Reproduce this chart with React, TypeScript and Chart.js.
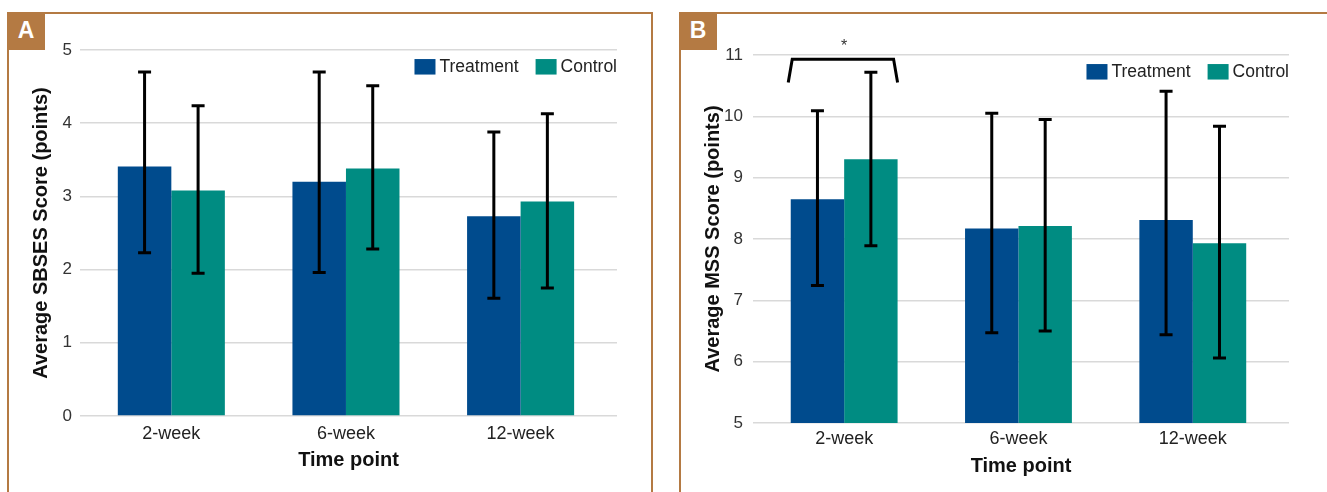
import React, { useEffect, useRef } from "react";
import { Chart, registerables } from "chart.js";

Chart.register(...registerables);

// ---------- data ----------
const categories = ["2-week", "6-week", "12-week"];
const seriesNames = ["Treatment", "Control"];
const seriesColors = ["#004b8d", "#008c82"];

// Panel A: SBSES
const sbsesTreatment = [3.41, 3.2, 2.73];
const sbsesControl = [3.08, 3.38, 2.93];
const sbsesTreatmentLow = [2.23, 1.96, 1.61];
const sbsesTreatmentHigh = [4.7, 4.7, 3.88];
const sbsesControlLow = [1.95, 2.28, 1.75];
const sbsesControlHigh = [4.24, 4.51, 4.13];
const sbsesRange = [0, 5];

// Panel B: MSS
const mssTreatment = [8.65, 8.17, 8.31];
const mssControl = [9.3, 8.21, 7.93];
const mssTreatmentLow = [7.24, 6.47, 6.44];
const mssTreatmentHigh = [10.09, 10.05, 10.41];
const mssControlLow = [7.89, 6.5, 6.06];
const mssControlHigh = [10.72, 9.95, 9.84];
const mssRange = [5, 11];

// significance bracket (panel B): category index, bracket foot, bracket top, star level
const sigCategory = 0;
const sigFoot = 10.55;
const sigTop = 10.93;
const sigStar = 11.19;
const sigLabel = "*";

const FONT = "'Liberation Sans', Arial, sans-serif";
const BROWN = "#b47a43";

Chart.defaults.font.family = FONT;

const errorBarPlugin = {
  id: "errorBars",
  afterDatasetsDraw(chart: any) {
    const { ctx } = chart;
    const y = chart.scales.y;
    ctx.save();
    ctx.strokeStyle = "#000";
    ctx.lineWidth = 3;
    ctx.lineCap = "butt";
    chart.data.datasets.forEach((ds: any, i: number) => {
      const meta = chart.getDatasetMeta(i);
      meta.data.forEach((el: any, j: number) => {
        const yl = y.getPixelForValue(ds.errLow[j]);
        const yh = y.getPixelForValue(ds.errHigh[j]);
        const x = el.x;
        ctx.beginPath();
        ctx.moveTo(x, yl);
        ctx.lineTo(x, yh);
        ctx.moveTo(x - 6.5, yh);
        ctx.lineTo(x + 6.5, yh);
        ctx.moveTo(x - 6.5, yl);
        ctx.lineTo(x + 6.5, yl);
        ctx.stroke();
      });
    });
    ctx.restore();
  },
};

const legendPlugin = {
  id: "insideLegend",
  afterDraw(chart: any) {
    const { ctx, chartArea } = chart;
    ctx.save();
    ctx.font = `17.5px ${FONT}`;
    const boxW = 21;
    const boxH = 15.5;
    const gapBoxText = 4;
    const gapItems = 17;
    const items = chart.data.datasets.map((ds: any) => ({
      label: ds.label,
      color: ds.backgroundColor,
      w: ctx.measureText(ds.label).width,
    }));
    const total =
      items.reduce((s: number, it: any) => s + boxW + gapBoxText + it.w, 0) +
      gapItems * (items.length - 1);
    let x = chartArea.right - total;
    const cy = chartArea.top + 16.8;
    for (const it of items) {
      ctx.fillStyle = it.color;
      ctx.fillRect(x, cy - boxH / 2, boxW, boxH);
      x += boxW + gapBoxText;
      ctx.fillStyle = "#222";
      ctx.textBaseline = "middle";
      ctx.textAlign = "left";
      ctx.fillText(it.label, x, cy + 0.5);
      x += it.w + gapItems;
    }
    ctx.restore();
  },
};

function makeBracketPlugin() {
  return {
    id: "sigBracket",
    afterDraw(chart: any) {
      const { ctx } = chart;
      const y = chart.scales.y;
      const a = chart.getDatasetMeta(0).data[sigCategory];
      const b = chart.getDatasetMeta(1).data[sigCategory];
      const left = a.x - a.width / 2;
      const right = b.x + b.width / 2;
      const yf = y.getPixelForValue(sigFoot);
      const yt = y.getPixelForValue(sigTop);
      ctx.save();
      ctx.strokeStyle = "#000";
      ctx.lineWidth = 3;
      ctx.lineJoin = "miter";
      ctx.beginPath();
      ctx.moveTo(left - 2.5, yf);
      ctx.lineTo(left + 1.5, yt);
      ctx.lineTo(right - 4, yt);
      ctx.lineTo(right, yf);
      ctx.stroke();
      ctx.fillStyle = "#333";
      ctx.font = `16px ${FONT}`;
      ctx.textAlign = "center";
      ctx.textBaseline = "middle";
      ctx.fillText(sigLabel, (left + right) / 2, y.getPixelForValue(sigStar) + 3);
      ctx.restore();
    },
  };
}

type PanelProps = {
  left: number;
  width: number;
  height: number;
  yTitle: string;
  range: number[];
  treatment: number[];
  control: number[];
  tLow: number[];
  tHigh: number[];
  cLow: number[];
  cHigh: number[];
  padding: { left: number; top: number; right: number; bottom: number };
  yAxisWidth: number;
  yTitlePad: number;
  yTickPad: number;
  xAxisHeight: number;
  xTickPad: number;
  bracket?: boolean;
};

function Panel(p: PanelProps) {
  const ref = useRef<HTMLCanvasElement | null>(null);
  useEffect(() => {
    if (!ref.current) return;
    const toPts = (arr: number[]) => arr.map((v, i) => ({ x: i, y: v }));
    const plugins: any[] = [errorBarPlugin, legendPlugin];
    if (p.bracket) plugins.push(makeBracketPlugin());
    const chart = new Chart(ref.current, {
      type: "bar",
      data: {
        datasets: [
          {
            label: seriesNames[0],
            data: toPts(p.treatment),
            backgroundColor: seriesColors[0],
            borderWidth: 0,
            errLow: p.tLow,
            errHigh: p.tHigh,
          } as any,
          {
            label: seriesNames[1],
            data: toPts(p.control),
            backgroundColor: seriesColors[1],
            borderWidth: 0,
            errLow: p.cLow,
            errHigh: p.cHigh,
          } as any,
        ],
      },
      options: {
        responsive: false,
        animation: false,
        devicePixelRatio: 1,
        events: [],
        datasets: { bar: { categoryPercentage: 0.613, barPercentage: 1 } },
        layout: { padding: p.padding },
        plugins: {
          legend: { display: false },
          tooltip: { enabled: false },
          title: { display: false },
        },
        scales: {
          x: {
            type: "linear",
            min: -0.523,
            max: 2.552,
            offset: false,
            grid: { display: false, offset: false },
            border: { display: false },
            afterBuildTicks: (scale: any) => {
              scale.ticks = categories.map((_, i) => ({ value: i }));
            },
            afterFit: (scale: any) => {
              scale.height = p.xAxisHeight;
            },
            ticks: {
              autoSkip: false,
              maxRotation: 0,
              padding: p.xTickPad,
              color: "#222",
              font: { size: 18, family: FONT },
              callback: (v: any) => categories[Math.round(Number(v))] ?? "",
            },
            title: {
              display: true,
              text: "Time point",
              color: "#111",
              font: { size: 20, weight: "bold", family: FONT },
              padding: { top: 0, bottom: 0 },
            },
          },
          y: {
            type: "linear",
            min: p.range[0],
            max: p.range[1],
            grid: { color: "#d9d9d9", lineWidth: 1.6, drawTicks: false },
            border: { display: false },
            afterFit: (scale: any) => {
              scale.width = p.yAxisWidth;
            },
            ticks: {
              stepSize: 1,
              padding: p.yTickPad,
              color: "#333",
              font: { size: 17, family: FONT },
            },
            title: {
              display: true,
              text: p.yTitle,
              color: "#111",
              font: { size: 20, weight: "bold", family: FONT },
              padding: { top: p.yTitlePad, bottom: 0 },
            },
          },
        },
      } as any,
      plugins,
    });
    return () => chart.destroy();
  }, []);
  return (
    <canvas
      ref={ref}
      width={p.width}
      height={p.height}
      style={{ position: "absolute", left: p.left, top: 0, width: p.width, height: p.height }}
    />
  );
}

function Frame({ left, width, letter }: { left: number; width: number; letter: string }) {
  return (
    <>
      <div
        style={{
          position: "absolute",
          left,
          top: 12,
          width,
          height: 520,
          boxSizing: "border-box",
          border: `2px solid ${BROWN}`,
        }}
      />
      <div
        style={{
          position: "absolute",
          left,
          top: 12,
          width: 38,
          height: 37.5,
          background: BROWN,
          color: "#fff",
          fontFamily: FONT,
          fontWeight: "bold",
          fontSize: 23,
          display: "flex",
          alignItems: "center",
          justifyContent: "center",
        }}
      >
        {letter}
      </div>
    </>
  );
}

export default function App() {
  return (
    <div
      style={{
        position: "absolute",
        left: 0,
        top: 0,
        width: 1327,
        height: 492,
        overflow: "hidden",
        background: "#fff",
      }}
    >
      <Frame left={7} width={646} letter="A" />
      <Frame left={679} width={650} letter="B" />
      <Panel
        left={0}
        width={660}
        height={492}
        yTitle="Average SBSES Score (points)"
        range={sbsesRange}
        treatment={sbsesTreatment}
        control={sbsesControl}
        tLow={sbsesTreatmentLow}
        tHigh={sbsesTreatmentHigh}
        cLow={sbsesControlLow}
        cHigh={sbsesControlHigh}
        padding={{ left: 20, top: 50, right: 43, bottom: 20 }}
        yAxisWidth={60}
        yTitlePad={9}
        yTickPad={8}
        xAxisHeight={56}
        xTickPad={-1}
      />
      <Panel
        left={660}
        width={667}
        height={492}
        yTitle="Average MSS Score (points)"
        range={mssRange}
        treatment={mssTreatment}
        control={mssControl}
        tLow={mssTreatmentLow}
        tHigh={mssTreatmentHigh}
        cLow={mssControlLow}
        cHigh={mssControlHigh}
        padding={{ left: 20, top: 55, right: 38, bottom: 14 }}
        yAxisWidth={73}
        yTitlePad={21}
        yTickPad={10}
        xAxisHeight={55}
        xTickPad={-3}
        bracket
      />
    </div>
  );
}
